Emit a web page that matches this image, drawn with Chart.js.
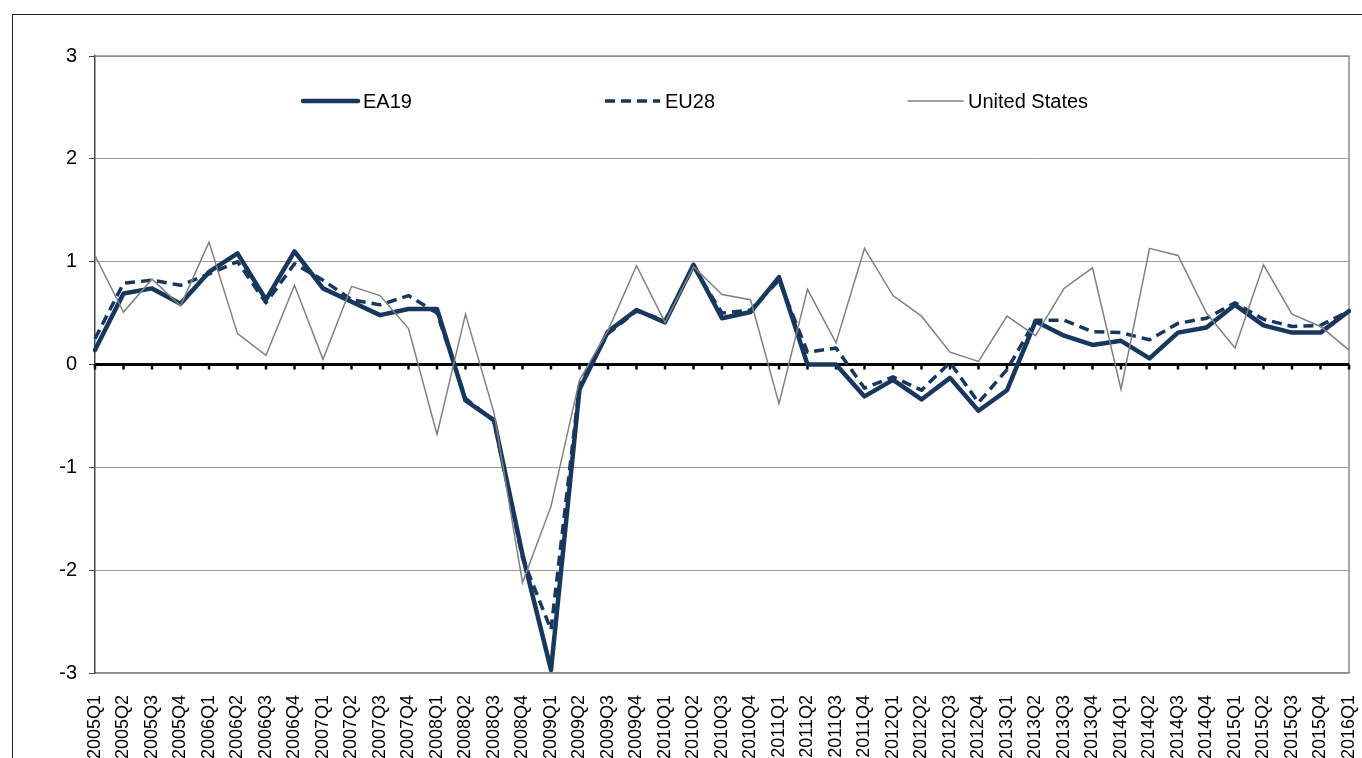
<!DOCTYPE html>
<html>
<head>
<meta charset="utf-8">
<script src="https://cdn.jsdelivr.net/npm/chart.js@4.4.1/dist/chart.umd.min.js"></script>
<style>
  html, body { margin: 0; padding: 0; background: #fff; overflow: hidden; }
  #wrap { position: relative; width: 1362px; height: 758px; }
  #frame { position: absolute; left: 12px; top: 14px; width: 1400px; height: 800px; border: 1px solid #222; box-sizing: border-box; }
  canvas { position: absolute; left: 0; top: 0; }
</style>
</head>
<body>
<div id="wrap">
  <div id="frame"></div>
  <canvas id="growthChart" width="1362" height="758"></canvas>
</div>
<script>
const quarters = [
  "2005Q1", "2005Q2", "2005Q3", "2005Q4",
  "2006Q1", "2006Q2", "2006Q3", "2006Q4",
  "2007Q1", "2007Q2", "2007Q3", "2007Q4",
  "2008Q1", "2008Q2", "2008Q3", "2008Q4",
  "2009Q1", "2009Q2", "2009Q3", "2009Q4",
  "2010Q1", "2010Q2", "2010Q3", "2010Q4",
  "2011Q1", "2011Q2", "2011Q3", "2011Q4",
  "2012Q1", "2012Q2", "2012Q3", "2012Q4",
  "2013Q1", "2013Q2", "2013Q3", "2013Q4",
  "2014Q1", "2014Q2", "2014Q3", "2014Q4",
  "2015Q1", "2015Q2", "2015Q3", "2015Q4",
  "2016Q1",
];

const ea19 = [
  0.14, 0.69, 0.74, 0.59, 0.90, 1.08, 0.63, 1.10, 0.74, 0.61, 0.48, 0.54,
  0.54, -0.35, -0.54, -1.85, -2.97, -0.24, 0.32, 0.53, 0.41, 0.97, 0.45, 0.51,
  0.85, 0.00, 0.00, -0.31, -0.15, -0.34, -0.13, -0.45, -0.25, 0.42, 0.28, 0.19,
  0.23, 0.06, 0.31, 0.36, 0.58, 0.38, 0.31, 0.31, 0.52,
];

const eu28 = [
  0.25, 0.79, 0.82, 0.77, 0.88, 1.00, 0.60, 0.98, 0.82, 0.63, 0.58, 0.67,
  0.50, -0.33, -0.55, -1.88, -2.58, -0.20, 0.30, 0.52, 0.43, 0.95, 0.50, 0.53,
  0.82, 0.12, 0.16, -0.23, -0.12, -0.25, 0.02, -0.37, -0.05, 0.43, 0.43, 0.32,
  0.31, 0.24, 0.40, 0.45, 0.60, 0.44, 0.37, 0.38, 0.52,
];

const unitedStates = [
  1.06, 0.51, 0.83, 0.57, 1.19, 0.30, 0.09, 0.77, 0.05, 0.76, 0.67, 0.35,
  -0.68, 0.49, -0.47, -2.12, -1.38, -0.15, 0.33, 0.96, 0.41, 0.95, 0.68, 0.63,
  -0.38, 0.73, 0.21, 1.13, 0.67, 0.47, 0.12, 0.03, 0.47, 0.28, 0.74, 0.94,
  -0.24, 1.13, 1.06, 0.50, 0.16, 0.97, 0.49, 0.37, 0.14,
];

const yTicks = [-3, -2, -1, 0, 1, 2, 3];

const NAVY = "#17375E";
const GREY_LINE = "#808080";
const FONT = "'Liberation Sans', Arial, sans-serif";

// plot frame, bold zero axis with its tick marks
const axisPlugin = {
  id: "axisPlugin",
  beforeDatasetsDraw(chart) {
    const { ctx, chartArea: a, scales } = chart;
    ctx.save();
    ctx.strokeStyle = "#8c8c8c";
    ctx.lineWidth = 1.5;
    ctx.beginPath();
    ctx.moveTo(a.left, a.top);
    ctx.lineTo(a.right, a.top);
    ctx.lineTo(a.right, a.bottom);
    ctx.stroke();

    const y0 = scales.y.getPixelForValue(0);
    ctx.strokeStyle = "#000";
    ctx.lineWidth = 3;
    ctx.beginPath();
    ctx.moveTo(a.left, y0);
    ctx.lineTo(a.right, y0);
    ctx.stroke();
    ctx.lineWidth = 2.5;
    quarters.forEach((q, i) => {
      const x = scales.x.getPixelForValue(i);
      ctx.beginPath();
      ctx.moveTo(x, y0);
      ctx.lineTo(x, y0 + 5);
      ctx.stroke();
    });
    ctx.restore();
  },
};

// legend laid out in three fixed columns inside the plot
const legendPlugin = {
  id: "legendPlugin",
  afterDraw(chart, args, opts) {
    const { ctx, chartArea: a } = chart;
    const y = a.top + opts.offsetY;
    ctx.save();
    ctx.font = "20px " + FONT;
    ctx.textBaseline = "middle";
    chart.data.datasets.forEach((ds, i) => {
      const x = a.left + opts.columns[i];
      ctx.strokeStyle = ds.borderColor;
      ctx.lineWidth = ds.borderWidth;
      ctx.lineCap = ds.borderDash.length ? "butt" : "round";
      ctx.setLineDash(ds.borderDash);
      ctx.beginPath();
      ctx.moveTo(x, y);
      ctx.lineTo(x + opts.sample, y);
      ctx.stroke();
      ctx.setLineDash([]);
      ctx.fillStyle = "#000";
      ctx.fillText(ds.label, x + opts.sample + 5, y + 1);
    });
    ctx.restore();
  },
};

const ctx = document.getElementById("growthChart").getContext("2d");

new Chart(ctx, {
  type: "line",
  data: {
    labels: quarters,
    datasets: [
      {
        label: "EA19",
        data: ea19,
        borderColor: NAVY,
        borderWidth: 4.5,
        borderDash: [],
        borderJoinStyle: "round",
        borderCapStyle: "round",
        pointRadius: 0,
        order: 3,
      },
      {
        label: "EU28",
        data: eu28,
        borderColor: NAVY,
        borderWidth: 3.5,
        borderDash: [10, 6],
        borderJoinStyle: "round",
        pointRadius: 0,
        order: 2,
      },
      {
        label: "United States",
        data: unitedStates,
        borderColor: GREY_LINE,
        borderWidth: 1.5,
        borderDash: [],
        pointRadius: 0,
        order: 1,
      },
    ],
  },
  options: {
    responsive: false,
    animation: false,
    events: [],
    layout: { padding: { top: 56, right: 13, left: 0, bottom: 0 } },
    scales: {
      x: {
        type: "category",
        offset: false,
        grid: { display: false },
        border: { display: true, color: "#8c8c8c", width: 1.5 },
        ticks: {
          autoSkip: false,
          minRotation: 90,
          maxRotation: 90,
          padding: 14,
          color: "#000",
          font: { family: FONT, size: 18 },
        },
        afterFit(scale) {
          scale.height = 85;
          scale.paddingLeft = 0;
          scale.paddingRight = 0;
        },
      },
      y: {
        min: -3,
        max: 3,
        afterBuildTicks(scale) {
          scale.ticks = yTicks.map((v) => ({ value: v }));
        },
        grid: {
          color: (c) => (c.tick && c.tick.value === 0 ? "rgba(0,0,0,0)" : "#9a9a9a"),
          tickColor: "#444",
          tickLength: 6,
          lineWidth: 1,
        },
        border: { display: true, color: "#444", width: 1.5 },
        ticks: {
          padding: 12,
          color: "#000",
          font: { family: FONT, size: 20 },
        },
        afterFit(scale) {
          scale.width = 95;
        },
      },
    },
    plugins: {
      legend: { display: false },
      tooltip: { enabled: false },
      legendPlugin: {
        offsetY: 45,
        sample: 55,
        columns: [208, 510, 813],
      },
    },
  },
  plugins: [axisPlugin, legendPlugin],
});
</script>
</body>
</html>
